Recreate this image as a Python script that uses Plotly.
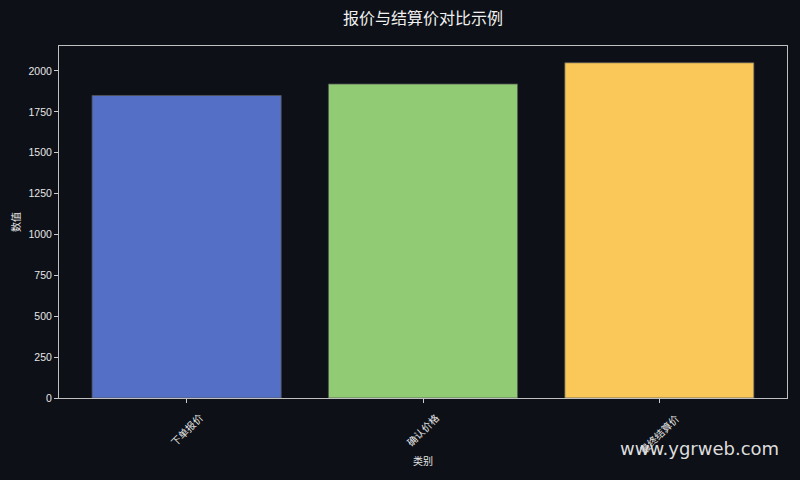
import plotly.graph_objects as go

categories = ["下单报价", "确认价格", "最终结算价"]
values = [1850, 1920, 2050]
bar_colors = ["#5470c6", "#91cc75", "#fac858"]
y_ticks = [0, 250, 500, 750, 1000, 1250, 1500, 1750, 2000]

BG = "#0d1017"
FG = "#e6e6e6"
FONT = "Liberation Sans, Noto Sans CJK SC, sans-serif"

fig = go.Figure()
fig.add_trace(go.Bar(
    x=list(range(len(categories))), y=values, width=0.8,
    marker=dict(color=bar_colors, line=dict(color="#555555", width=0.8)),
    hoverinfo="y",
))

# rotated category labels, centred under each tick like matplotlib does
notes = [
    dict(text=c, x=i, y=0, xref="x", yref="paper", yshift=-11,
         textangle=-45, showarrow=False, xanchor="center", yanchor="top",
         font=dict(size=10, color=FG))
    for i, c in enumerate(categories)
]
notes.append(dict(text="类别", x=0.5, y=0, xref="paper", yref="paper", yshift=-63,
                  showarrow=False, xanchor="center", yanchor="middle",
                  font=dict(size=10, color=FG)))
notes.append(dict(text="www.ygrweb.com", xref="paper", yref="paper",
                  x=1.0, y=0, xshift=-6, yshift=-50, xanchor="right", yanchor="middle",
                  showarrow=False, font=dict(size=18, color="#dddddd",
                                             family="DejaVu Sans, sans-serif")))

fig.update_layout(
    width=800, height=480,
    paper_bgcolor=BG, plot_bgcolor=BG,
    font=dict(family=FONT, color=FG, size=10),
    title=dict(text="报价与结算价对比示例", x=0.5, xref="paper", xanchor="center",
               y=0.961, yanchor="middle", font=dict(size=16, color="#f0f0f0")),
    margin=dict(l=59, r=13, t=46, b=82),
    showlegend=False,
    annotations=notes,
)
fig.update_xaxes(
    range=[-0.54, 2.54], tickmode="array", tickvals=list(range(len(categories))),
    showticklabels=False, ticks="outside", ticklen=4, tickcolor="#cccccc",
    showgrid=False, zeroline=False, showline=True, linecolor="#c0c0c0", linewidth=1,
    mirror=True,
)
fig.update_yaxes(
    range=[0, 2152.5], tickmode="array", tickvals=y_ticks,
    ticks="outside", ticklen=4, tickcolor="#cccccc",
    showgrid=False, zeroline=False, showline=True, linecolor="#c0c0c0", linewidth=1,
    mirror=True, title=dict(text="数值", font=dict(size=10), standoff=6),
    tickfont=dict(size=10.5),
)

fig.write_html("out.html", config={"displayModeBar": False},
               post_script="document.body.style.margin='0';")
